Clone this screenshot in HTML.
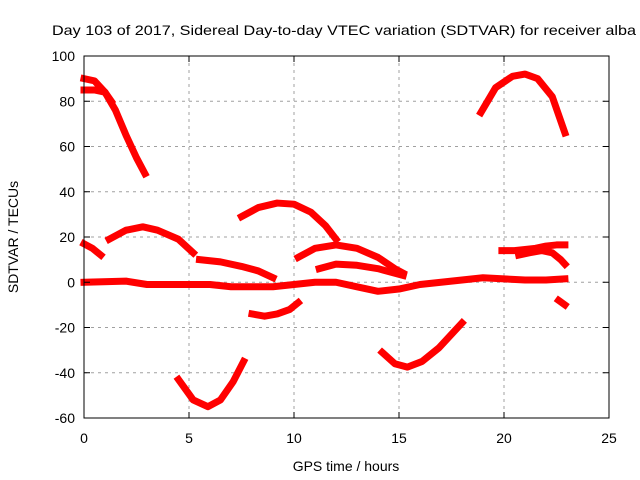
<!DOCTYPE html>
<html><head><meta charset="utf-8"><style>
html,body{margin:0;padding:0;background:#fff;overflow:hidden}
svg{display:block;font-family:"Liberation Sans",sans-serif}
</style></head><body>
<svg id="chart" width="640" height="480">
<text x="52" y="35" font-size="14" textLength="584" lengthAdjust="spacingAndGlyphs" fill="#000">Day 103 of 2017, Sidereal Day-to-day VTEC variation (SDTVAR) for receiver alba</text>
<g id="grid"></g>
<g id="series"></g>
<rect x="84" y="56" width="525" height="362" fill="none" stroke="#000" stroke-width="1"/>
<g id="ticks"></g>
<text x="346" y="471" font-size="14" text-anchor="middle">GPS time / hours</text>
<text transform="translate(18,237) rotate(-90)" font-size="14" text-anchor="middle">SDTVAR / TECUs</text>
</svg>
<script>
const xTicks = [0,5,10,15,20,25];
const yTicks = [-60,-40,-20,0,20,40,60,80,100];
const segA_h = [0,0.5,1,1.5,2,2.5,2.9];
const segA_v = [90,89,84,76,65,55,48];
const segB_h = [0,0.5,1,1.3];
const segB_v = [85,85,84,80];
const segC_h = [0,0.4,0.8];
const segC_v = [17,15,12];
const segD_h = [1.2,2,2.8,3.5,4.5,5.2];
const segD_v = [19,23,24.5,23,19,13];
const segE_h = [4.5,5.2,5.9,6.5,7.1,7.6];
const segE_v = [-43,-52,-55,-52,-44,-35];
const segF_h = [7.5,8.3,9.2,10,10.8,11.5,12];
const segF_v = [29,33,35,34.5,31,25,19];
const segG_h = [8,8.6,9.2,9.8,10.2];
const segG_v = [-14,-15,-14,-12,-9];
const segH_h = [5.5,6.5,7.5,8.3,9];
const segH_v = [10,9,7,5,2];
const segI_h = [10.2,11,12,13,14,14.8,15.2];
const segI_v = [11,15,16.5,15,11,6,4];
const segJ_h = [11.2,12,13,14,15.2];
const segJ_v = [6,8,7.5,6,3];
const segK_h = [0,2,3,5,6,7,9,11,12,13,14,15,16,18,19,20,21,22,22.9];
const segK_v = [0,0.5,-1,-1,-1,-2,-2,0,0,-2,-4,-3,-1,1,2,1.5,1,1,1.5];
const segL_h = [14.2,14.8,15.4,16.1,16.9,17.6,18];
const segL_v = [-31,-36,-37.5,-35,-29,-22,-18];
const segM_h = [18.9,19.6,20.4,21,21.6,22.3,22.9];
const segM_v = [75,86,91,92,90,82,66];
const segN_h = [19.9,20.5,21.5,22,22.5,22.9];
const segN_v = [14,14,15,16,16.5,16.5];
const segO_h = [20.7,21.2,21.8,22.3,22.7,22.9];
const segO_v = [12,13,14,13,10,8];
const segP_h = [22.6,22.9];
const segP_v = [-8,-10];
const segments = [[segA_h,segA_v],[segB_h,segB_v],[segC_h,segC_v],[segD_h,segD_v],[segE_h,segE_v],[segF_h,segF_v],[segG_h,segG_v],[segH_h,segH_v],[segI_h,segI_v],[segJ_h,segJ_v],[segK_h,segK_v],[segL_h,segL_v],[segM_h,segM_v],[segN_h,segN_v],[segO_h,segO_v],[segP_h,segP_v]];

const NS = "http://www.w3.org/2000/svg";
const X0=84, X1=609, Y0=418, Y1=56;
function xs(h){return X0+(h-0)/(25-0)*(X1-X0);}
function ys(v){return Y0-(v+60)/(160)*(Y0-Y1);}
function mk(tag,attrs,parent){const e=document.createElementNS(NS,tag);for(const k in attrs)e.setAttribute(k,attrs[k]);parent.appendChild(e);return e;}
const grid=document.getElementById('grid'), ticks=document.getElementById('ticks'), ser=document.getElementById('series');
xTicks.forEach(t=>{
  const x=xs(t);
  if(t>0&&t<25){const g=mk('line',{x1:x,x2:x,y1:Y1,y2:Y0,stroke:'#a0a0a0','stroke-dasharray':'3,4','stroke-width':1},grid);
  
  }
  mk('line',{x1:x,x2:x,y1:Y0,y2:Y0-6,stroke:'#000'},ticks);
  mk('line',{x1:x,x2:x,y1:Y1,y2:Y1+6,stroke:'#000'},ticks);
  const tx=mk('text',{x:x,y:443,'font-size':14,'text-anchor':'middle'},ticks);
  tx.textContent=t;
  
  
});
yTicks.forEach(t=>{
  const y=ys(t);
  if(t>-60&&t<100){const g=mk('line',{x1:X0,x2:X1,y1:y,y2:y,stroke:'#a0a0a0','stroke-dasharray':'3,4','stroke-width':1},grid);
  
  }
  mk('line',{x1:X0,x2:X0+6,y1:y,y2:y,stroke:'#000'},ticks);
  mk('line',{x1:X1,x2:X1-6,y1:y,y2:y,stroke:'#000'},ticks);
  const tx=mk('text',{x:X0-9,y:y+5,'font-size':14,'text-anchor':'end'},ticks);
  tx.textContent=t;
  
  
});
segments.forEach(([hs,vs])=>{
  const pts=hs.map((h,i)=>xs(h)+','+ys(vs[i])).join(' ');
  const p=mk('polyline',{points:pts,fill:'none',stroke:'#ff0000','stroke-width':7,'stroke-linejoin':'round','stroke-linecap':'square'},ser);
  
  
});
</script>
</body></html>
